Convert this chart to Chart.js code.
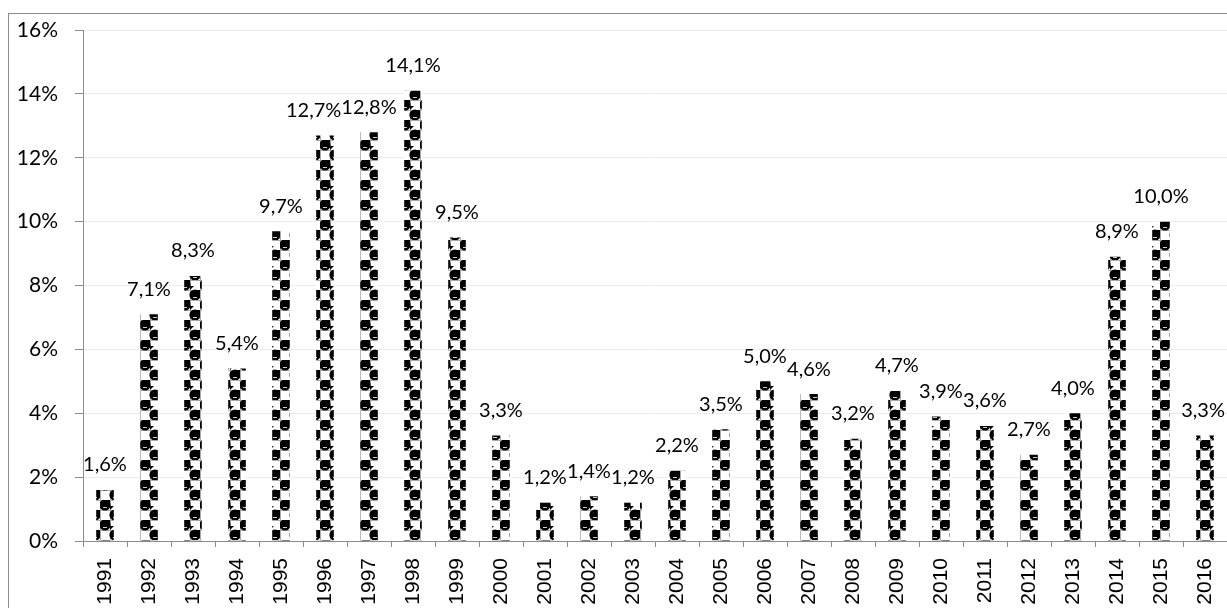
<!DOCTYPE html>
<html>
<head>
<meta charset="utf-8">
<script src="https://cdn.jsdelivr.net/npm/chart.js@4/dist/chart.umd.min.js"></script>
<style>
  html, body { margin: 0; padding: 0; background: #fff; overflow: hidden; }
  #wrap { position: relative; width: 1227px; height: 608px; overflow: hidden; }
  #frame { position: absolute; left: 8px; top: 13px; width: 1300px; height: 620px; border: 1px solid #8c8c8c; box-sizing: border-box; pointer-events: none; }
  canvas { position: absolute; left: 0; top: 0; }
</style>
</head>
<body>
<div id="wrap">
  <canvas id="barChart" width="1227" height="608"></canvas>
  <div id="frame"></div>
</div>
<script>
"use strict";
var years = ['1991', '1992', '1993', '1994', '1995', '1996', '1997', '1998', '1999', '2000',
    '2001', '2002', '2003', '2004', '2005', '2006', '2007', '2008', '2009', '2010',
    '2011', '2012', '2013', '2014', '2015', '2016'];
var growth = [1.6, 7.1, 8.3, 5.4, 9.7, 12.7, 12.8, 14.1, 9.5, 3.3,
    1.2, 1.4, 1.2, 2.2, 3.5, 5.0, 4.6, 3.2, 4.7, 3.9,
    3.6, 2.7, 4.0, 8.9, 10.0, 3.3];
var yTicks = [0, 2, 4, 6, 8, 10, 12, 14, 16];

// "sphere" fill: black balls on a 10px checker grid
function spherePattern(ctx) {
    var c = document.createElement('canvas');
    c.width = 20; c.height = 20;
    var p = c.getContext('2d');
    p.fillStyle = '#fff';
    p.fillRect(0, 0, 20, 20);
    p.strokeStyle = '#a8a8a8';
    p.lineWidth = 1;
    p.beginPath();
    p.moveTo(0.5, 0); p.lineTo(0.5, 20);
    p.moveTo(10.5, 0); p.lineTo(10.5, 20);
    p.moveTo(0, 0.5); p.lineTo(20, 0.5);
    p.moveTo(0, 10.5); p.lineTo(20, 10.5);
    p.stroke();
    [[5, 5], [15, 15]].forEach(function(o) {
        p.fillStyle = '#000';
        p.beginPath();
        p.arc(o[0], o[1], 5.6, 0, Math.PI * 2);
        p.fill();
        p.fillRect(o[0], o[1] - 5, 5, 6);
        // small corner wedge in the neighbouring white cell
        p.beginPath();
        p.moveTo(o[0] + 5, o[1] + 1);
        p.lineTo(o[0] + 9, o[1] + 1);
        p.lineTo(o[0] + 5, o[1] + 5);
        p.closePath();
        p.fill();
        p.fillStyle = '#d0d0d0';
        p.fillRect(o[0] - 2, o[1] + 2, 4, 1);
    });
    return ctx.createPattern(c, 'repeat');
}

function fmt(v) {
    return v.toFixed(1).replace('.', ',') + '%';
}

// value labels above each bar; a label that runs into its right
// neighbour moves left, and nothing runs past the canvas edge
var barLabels = {
    id: 'barLabels',
    afterDatasetsDraw: function(chart) {
        var ctx = chart.ctx;
        var meta = chart.getDatasetMeta(0);
        var rightEdge = chart.width - 2;
        ctx.save();
        ctx.font = '20px Lato, "Open Sans", sans-serif';
        ctx.fillStyle = '#000';
        ctx.textAlign = 'center';
        ctx.textBaseline = 'middle';
        var boxes = meta.data.map(function(bar, i) {
            var text = fmt(growth[i]);
            var w = ctx.measureText(text).width;
            return { text: text, x: bar.x, y: bar.y - 25, w: w };
        });
        for (var i = boxes.length - 1; i >= 0; i--) {
            var b = boxes[i];
            if (b.x + b.w / 2 > rightEdge) b.x = rightEdge - b.w / 2;
            var n = boxes[i + 1];
            if (n && Math.abs(n.y - b.y) < 18) {
                var over = (b.x + b.w / 2) - (n.x - n.w / 2);
                if (over > 0) b.x -= over;
            }
        }
        boxes.forEach(function(b) {
            ctx.fillText(b.text, b.x, b.y);
        });
        ctx.restore();
    }
};

var canvas = document.getElementById('barChart');
var ctx = canvas.getContext('2d');

new Chart(ctx, {
    type: 'bar',
    data: {
        labels: years,
        datasets: [{
            label: 'growth',
            data: growth,
            backgroundColor: spherePattern(ctx),
            borderWidth: 0,
            barPercentage: 0.8,
            categoryPercentage: 0.5
        }]
    },
    options: {
        responsive: false,
        animation: false,
        // plot runs a little past the right edge of the canvas
        layout: { padding: { left: 8, right: -6, top: 30, bottom: 0 } },
        plugins: {
            legend: { display: false },
            tooltip: { enabled: false }
        },
        scales: {
            x: {
                offset: true,
                grid: {
                    offset: true,
                    drawOnChartArea: false,
                    drawTicks: true,
                    tickLength: 6,
                    tickColor: '#8c8c8c'
                },
                border: { color: '#8c8c8c', width: 1 },
                ticks: {
                    minRotation: 90,
                    maxRotation: 90,
                    autoSkip: false,
                    padding: 11,
                    color: '#000',
                    font: { family: '"Liberation Sans", Arial, sans-serif', size: 21 }
                },
                afterFit: function(s) {
                    s.height = 67;
                    // let the last label sit at the edge instead of shrinking the plot
                    s.paddingLeft = 0;
                    s.paddingRight = 0;
                }
            },
            y: {
                min: 0,
                max: 16,
                afterBuildTicks: function(s) {
                    s.ticks = yTicks.map(function(v) { return { value: v }; });
                },
                grid: {
                    color: '#ececec',
                    tickColor: '#8c8c8c',
                    tickLength: 8
                },
                border: { color: '#8c8c8c', width: 1 },
                ticks: {
                    padding: 17,
                    color: '#000',
                    font: { family: 'Lato, "Open Sans", sans-serif', size: 21 },
                    callback: function(v) { return v + '%'; }
                },
                afterFit: function(s) { s.width = 75; }
            }
        }
    },
    plugins: [barLabels]
});
</script>
</body>
</html>
